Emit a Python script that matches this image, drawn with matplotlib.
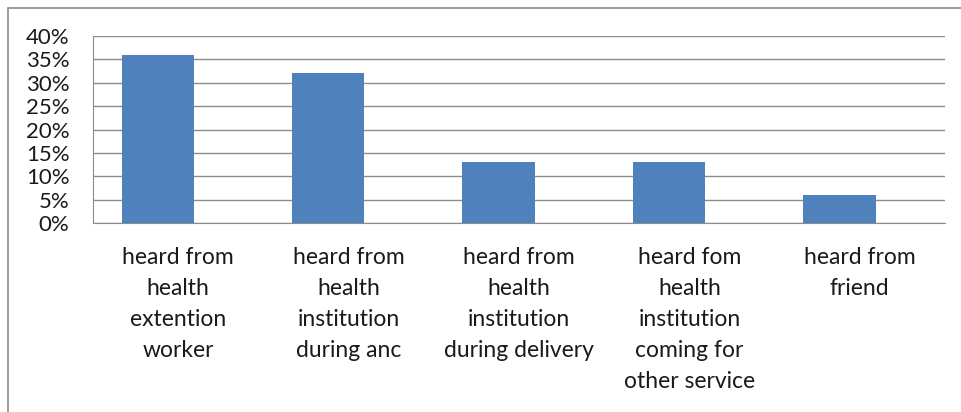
import matplotlib
matplotlib.use("Agg")
import matplotlib.pyplot as plt
from matplotlib.patches import Rectangle
from matplotlib.ticker import FuncFormatter, MultipleLocator
import numpy as np

categories = [
    "heard from\nhealth\nextention\nworker",
    "heard from\nhealth\ninstitution\nduring anc",
    "heard from\nhealth\ninstitution\nduring delivery",
    "heard fom\nhealth\ninstitution\ncoming for\nother service",
    "heard from\nfriend",
]
values = [0.36, 0.32, 0.13, 0.13, 0.06]

W, H = 962, 412
plt.rcParams['font.family'] = ['Lato', 'DejaVu Sans']
fig = plt.figure(figsize=(W / 100, H / 100), dpi=100)

# outer frame
fig.patches.append(Rectangle((8 / W, -0.1), 1.2, 1 - 8 / H + 0.1, transform=fig.transFigure,
                             fill=False, edgecolor="#8c8c8c", linewidth=1.2))

ax = fig.add_axes([93 / W, 1 - 223 / H, (945 - 93) / W, (223 - 36) / H])
x = np.arange(len(categories))
# bar drawn in the first slot of a two-slot group (offset left of the category centre)
ax.bar(x - 0.12, values, width=0.425, color="#4F81BD", zorder=3)
ax.set_xlim(-0.5, len(categories) - 0.5)
ax.set_ylim(0, 0.40)
ax.yaxis.set_major_locator(MultipleLocator(0.05))
ax.yaxis.set_major_formatter(FuncFormatter(lambda v, p: f"{v*100:.0f}%"))
ax.grid(axis="y", color="#8c8c8c", linewidth=1.0, zorder=0)
for s in ["top", "right"]:
    ax.spines[s].set_visible(False)
ax.spines["left"].set_color("#8c8c8c")
ax.spines["bottom"].set_color("#8c8c8c")
ax.set_xticks(x)
ax.set_xticklabels(categories, fontsize=16.5, color="#1a1a1a", linespacing=1.6, ha="center")
ax.tick_params(axis="x", length=0, pad=17)
ax.tick_params(axis="y", length=0, pad=17, labelsize=16, labelcolor="#1a1a1a")

fig.savefig("out.png", dpi=100)
